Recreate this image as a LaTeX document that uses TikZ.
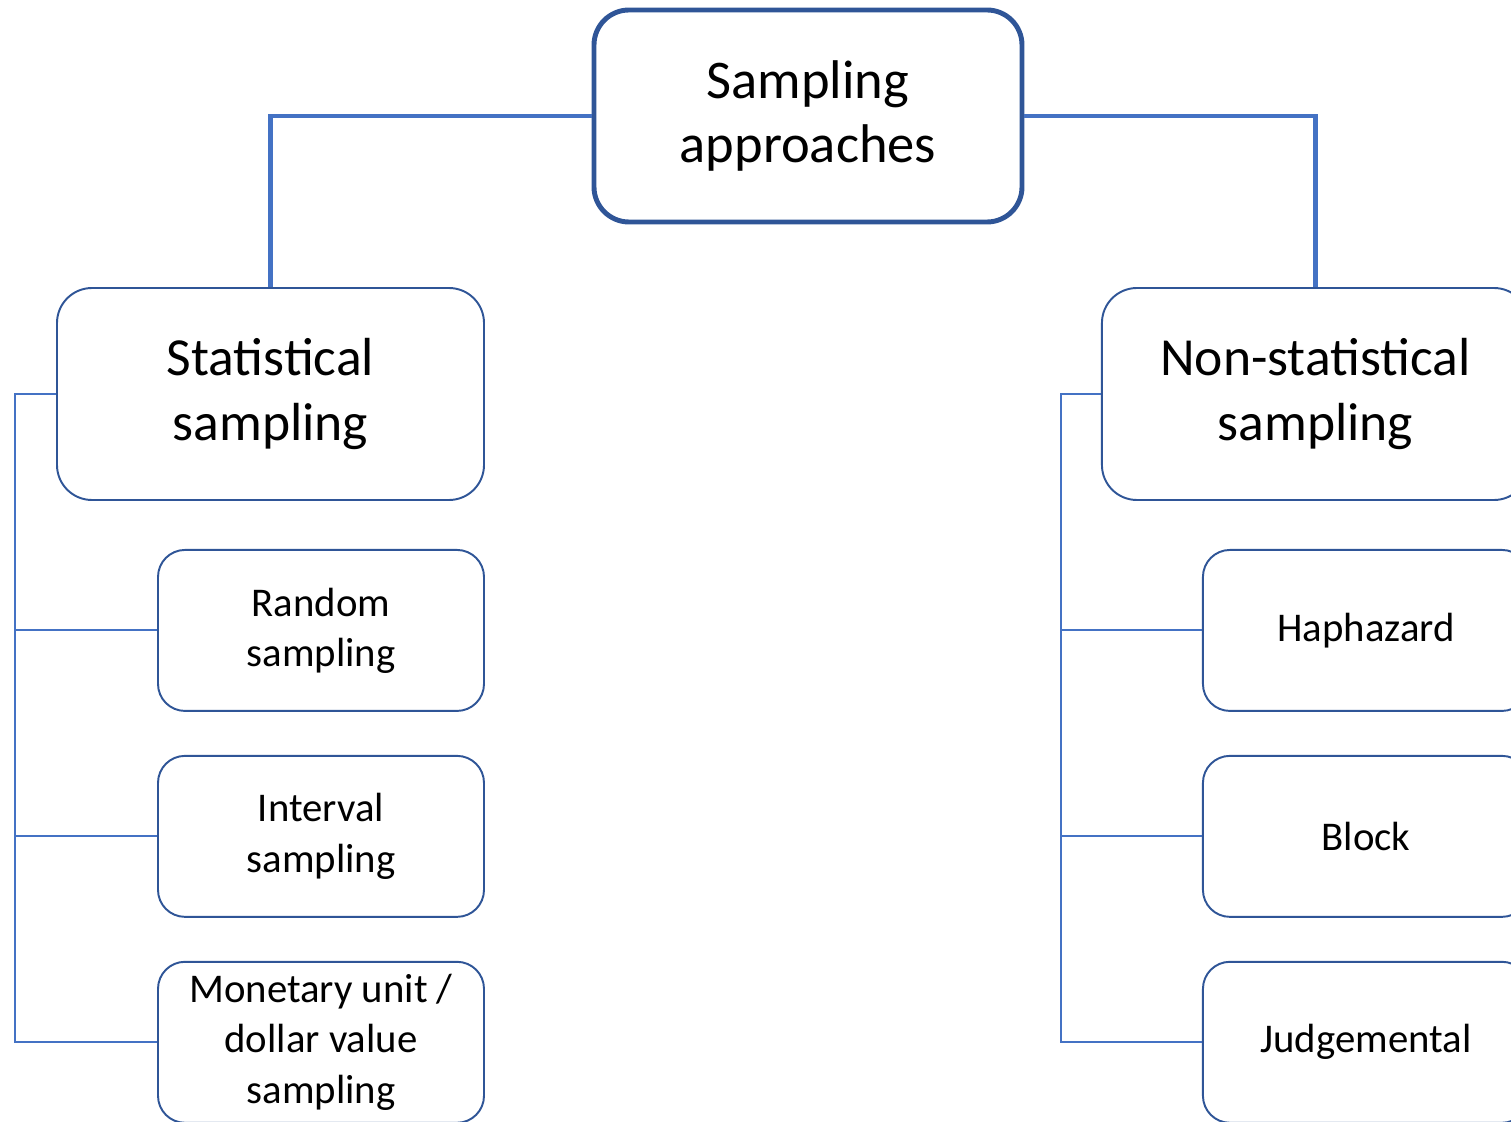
\documentclass[tikz,border=0pt]{standalone}
\usepackage{fontspec}
\setmainfont{Carlito}
\usepackage{xcolor}
\definecolor{treedark}{HTML}{2F5597}
\definecolor{treeblue}{HTML}{4472C4}
\usepackage{tikz}
\usetikzlibrary{
  positioning,
  calc,
}

\begin{document}
\begin{tikzpicture}[
  rootbox/.style={
    draw=treedark,
    line width=2.8pt,
    fill=white,
    rounded corners=0.7cm,
    minimum width=8.56cm,
    minimum height=4.24cm,
    align=center,
    font=\fontsize{31}{36.5}\selectfont,
  },
  catbox/.style={
    draw=treedark,
    line width=1.1pt,
    fill=white,
    rounded corners=0.7cm,
    minimum width=8.54cm,
    minimum height=4.24cm,
    align=center,
    font=\fontsize{30.5}{36.5}\selectfont,
  },
  leafbox/.style={
    draw=treedark,
    line width=1.1pt,
    fill=white,
    rounded corners=0.54cm,
    minimum width=6.52cm,
    minimum height=3.22cm,
    align=center,
    font=\fontsize{23.2}{28.5}\selectfont,
  },
  mainlink/.style={
    draw=treeblue,
    line width=2.8pt,
  },
  sublink/.style={
    draw=treeblue,
    line width=1.1pt,
  },
]

\clip (0,0) rectangle (30.22,-22.44);
\useasboundingbox (0,0) rectangle (30.22,-22.44);

% =============================================================================
% Top level
% =============================================================================
\node[rootbox] (root) at (16.16,-2.32) {Sampling\\approaches};

% =============================================================================
% Two categories
% =============================================================================
\node[catbox] (stat) at (5.41,-7.88) {Statistical\\sampling};
\node[catbox, right=12.32cm of stat] (nonstat) {Non-statistical\\sampling};

\draw[mainlink] (root.west) -| (stat.north);
\draw[mainlink] (root.east) -| (nonstat.north);

% =============================================================================
% Statistical methods (left column)
% =============================================================================
\node[leafbox, below=0.96cm of stat.south east, anchor=north east] (random) {%
  Random\\sampling};
\node[leafbox, below=0.86cm of random] (interval) {%
  Interval\\sampling};
\node[leafbox, below=0.86cm of interval] (monetary) {%
  Monetary unit /\\dollar value\\sampling};

\coordinate (lspine) at ($(stat.west)+(-0.82,0)$);
\draw[sublink] (stat.west) -- (lspine) |- (monetary.west);
\draw[sublink] (random.west) -- (random.west -| lspine);
\draw[sublink] (interval.west) -- (interval.west -| lspine);

% =============================================================================
% Non-statistical methods (right column)
% =============================================================================
\node[leafbox, below=0.96cm of nonstat.south west, anchor=north west,
      xshift=2.02cm] (haphazard) {Haphazard};
\node[leafbox, below=0.86cm of haphazard] (block) {Block};
\node[leafbox, below=0.86cm of block] (judgement) {Judgemental};

\coordinate (rspine) at ($(nonstat.west)+(-0.8,0)$);
\draw[sublink] (nonstat.west) -- (rspine) |- (judgement.west);
\draw[sublink] (haphazard.west) -- (haphazard.west -| rspine);
\draw[sublink] (block.west) -- (block.west -| rspine);

\end{tikzpicture}
\end{document}
